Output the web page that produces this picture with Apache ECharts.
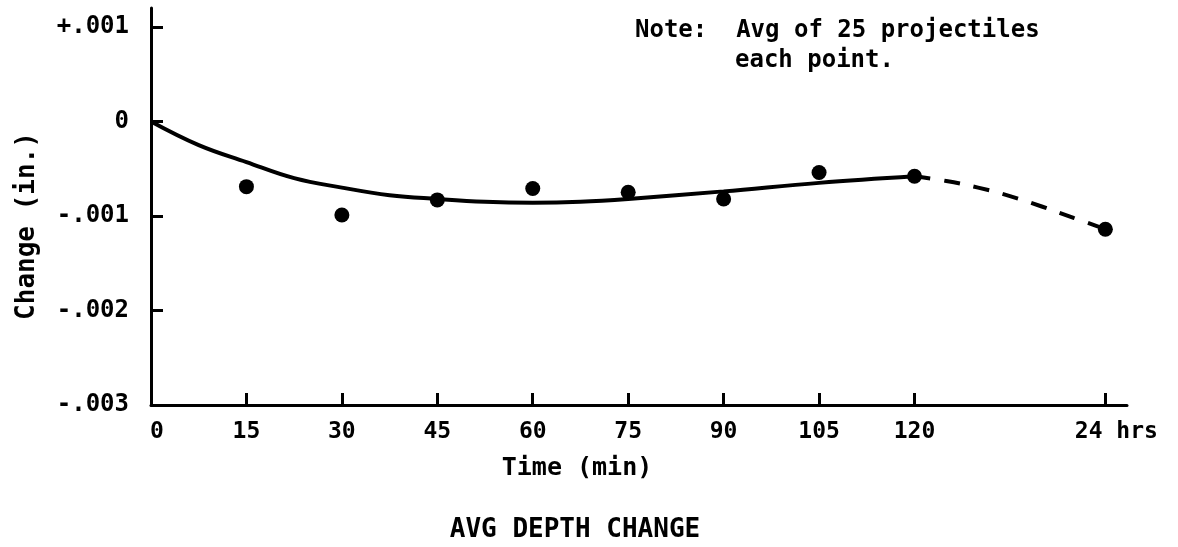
<!DOCTYPE html>
<html>
<head>
<meta charset="utf-8">
<script src="https://cdn.jsdelivr.net/npm/echarts@6/dist/echarts.min.js"></script>
<style>html,body{margin:0;padding:0;background:#fff}#c{width:1178px;height:547px}</style>
</head>
<body>
<div id="c"></div>
<script>
// Data (x in minutes; the "24 hrs" reading is placed at x = 150 on the drawn scale)
const pointX = [15, 30, 45, 60, 75, 90, 105, 120, 150];
const pointY = [-0.00069, -0.00099, -0.00083, -0.00071, -0.00075, -0.00082, -0.00054, -0.00058, -0.00114];
const curveX = [0, 7.5, 15, 22.5, 30, 37.5, 45, 52.5, 60, 67.5, 75, 90, 105, 120];
const curveY = [0, -0.00025, -0.00043, -0.0006, -0.0007, -0.00078, -0.00082, -0.00085, -0.00086, -0.00085, -0.00082, -0.00074, -0.00065, -0.00058];
const dashX = [120, 125, 130, 135, 140, 145, 150];
const dashY = [-0.00058, -0.00063, -0.0007, -0.00079, -0.0009, -0.00102, -0.00114];
const xTickValues = [0, 15, 30, 45, 60, 75, 90, 105, 120, 150];
const xTickLabels = ['0', '15', '30', '45', '60', '75', '90', '105', '120', '24 hrs'];
const yTickValues = [-0.003, -0.002, -0.001, 0, 0.001];
const yTickLabels = ['-.003', '-.002', '-.001', '0', '+.001'];

const FONT = 'DejaVu Sans Mono';
const txt = (s) => 'bold ' + s + 'px "DejaVu Sans Mono"';
const zip = (xs, ys) => xs.map((x, i) => [x, ys[i]]);

const chart = echarts.init(document.getElementById('c'), null, {renderer: 'canvas'});
chart.setOption({
  animation: false,
  backgroundColor: '#fff',
  grid: {left: 151, right: 51, top: 8, bottom: 142},
  xAxis: {
    type: 'value', min: 0, max: 153.4,
    axisLine: {show: true, onZero: false, lineStyle: {color: '#000', width: 3}},
    axisTick: {show: true, inside: true, length: 12, lineStyle: {color: '#000', width: 3}, customValues: xTickValues},
    splitLine: {show: false},
    axisLabel: {
      customValues: xTickValues, margin: 16, color: '#000', fontFamily: FONT, fontSize: 23, fontWeight: 'bold',
      formatter: function (v) {
        const i = xTickValues.findIndex(t => Math.abs(t - v) < 1e-6);
        const s = i >= 0 ? xTickLabels[i] : '';
        if (i === 0) return '{z|' + s + '}';
        if (i === xTickValues.length - 1) return '{h|' + s + '}';
        return s;
      },
      rich: {
        z: {fontFamily: FONT, fontSize: 23, fontWeight: 'bold', color: '#000', padding: [0, 0, 0, 12]},
        h: {fontFamily: FONT, fontSize: 23, fontWeight: 'bold', color: '#000', padding: [0, 0, 0, 22]}
      }
    }
  },
  yAxis: {
    type: 'value', min: -0.003, max: 0.0012,
    axisLine: {show: true, onZero: false, lineStyle: {color: '#000', width: 3}},
    axisTick: {show: true, inside: true, length: 12, lineStyle: {color: '#000', width: 3}, customValues: yTickValues},
    splitLine: {show: false},
    axisLabel: {
      customValues: yTickValues, margin: 22, color: '#000', fontFamily: FONT, fontSize: 24, fontWeight: 'bold',
      formatter: function (v) {
        const i = yTickValues.findIndex(t => Math.abs(t - v) < 1e-9);
        return i >= 0 ? yTickLabels[i] : '';
      }
    }
  },
  graphic: [
    {type: 'text', left: 635, top: 19, style: {text: 'Note:  Avg of 25 projectiles', font: txt(24), fill: '#000'}},
    {type: 'text', left: 735, top: 49, style: {text: 'each point.', font: txt(24), fill: '#000'}},
    {type: 'text', x: 577, y: 468, style: {text: 'Time (min)', font: txt(25), fill: '#000', align: 'center', verticalAlign: 'middle'}},
    {type: 'text', x: 575, y: 530, style: {text: 'AVG DEPTH CHANGE', font: txt(26), fill: '#000', align: 'center', verticalAlign: 'middle'}},
    {type: 'text', x: 27, y: 226, rotation: Math.PI / 2, style: {text: 'Change (in.)', font: txt(26), fill: '#000', align: 'center', verticalAlign: 'middle'}}
  ],
  series: [
    {type: 'line', data: zip(curveX, curveY), smooth: 0.4, showSymbol: false, lineStyle: {color: '#000', width: 4}, z: 2},
    {type: 'line', data: zip(dashX, dashY), smooth: 0.4, showSymbol: false, lineStyle: {color: '#000', width: 4, type: [16, 14]}, z: 2},
    {type: 'scatter', data: zip(pointX, pointY), symbol: 'circle', symbolSize: 15, itemStyle: {color: '#000', opacity: 1}, z: 3}
  ]
});
</script>
</body>
</html>
